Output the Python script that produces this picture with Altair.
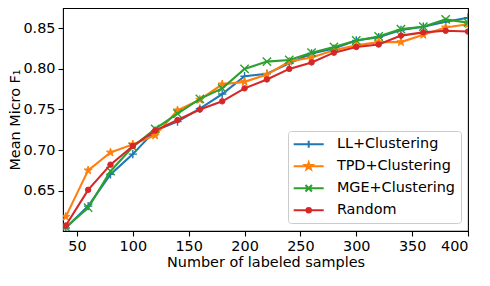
import math
import altair as alt
import pandas as pd

samples = [40, 60, 80, 100, 120, 140, 160, 180, 200, 220, 240, 260, 280, 300, 320, 340, 360, 380, 400]
ll = [0.604, 0.631, 0.670, 0.695, 0.724, 0.735, 0.751, 0.769, 0.791, 0.794, 0.807, 0.819, 0.825, 0.835, 0.839, 0.848, 0.852, 0.858, 0.863]
tpd = [0.618, 0.675, 0.697, 0.707, 0.718, 0.749, 0.762, 0.781, 0.784, 0.793, 0.809, 0.814, 0.823, 0.829, 0.833, 0.833, 0.842, 0.851, 0.855]
mge = [0.605, 0.629, 0.674, 0.704, 0.726, 0.745, 0.763, 0.776, 0.800, 0.809, 0.811, 0.820, 0.827, 0.835, 0.840, 0.849, 0.852, 0.861, 0.857]
rnd = [0.607, 0.651, 0.682, 0.705, 0.724, 0.737, 0.750, 0.760, 0.776, 0.787, 0.800, 0.808, 0.820, 0.827, 0.830, 0.841, 0.845, 0.847, 0.846]

names = ["LL+Clustering", "TPD+Clustering", "MGE+Clustering", "Random"]
colors = ["#1f77b4", "#ff7f0e", "#2ca02c", "#d62728"]
series_values = [ll, tpd, mge, rnd]
x_ticks = [50, 100, 150, 200, 250, 300, 350, 400]
y_ticks = [0.65, 0.70, 0.75, 0.80, 0.85]


def star_path(R, r_ratio=0.381966):
    pts = []
    for k in range(10):
        rad = R if k % 2 == 0 else R * r_ratio
        a = math.radians(-90 + 36 * k)
        pts.append(f"{rad * math.cos(a):.3f},{rad * math.sin(a):.3f}")
    return "M" + "L".join(pts) + "Z"


def circle_path(r):
    return f"M{-r},0A{r},{r} 0 1,0 {r},0A{r},{r} 0 1,0 {-r},0Z"


plus_p = "M-1,0H1M0,-1V1"
x_p = "M-1,-1L1,1M-1,1L1,-1"

# legend symbols (line + marker), 1 unit = 5px at symbolSize 100
leg_line = "M-3,0H3"
leg_paths = [
    leg_line + "M-0.7,0H0.7M0,-0.7V0.7",
    leg_line + star_path(0.75),
    leg_line + "M-0.65,-0.65L0.65,0.65M-0.65,0.65L0.65,-0.65",
    leg_line + circle_path(0.45),
]

FONT = "DejaVu Sans"
FS = 14.4
xscale = alt.Scale(domain=[37.5, 400], nice=False, zero=False)
yscale = alt.Scale(domain=[0.6003, 0.875], nice=False, zero=False)

xax = alt.Axis(values=x_ticks, title="Number of labeled samples", format="d")
yax = alt.Axis(values=y_ticks, title="Mean Micro F\u2081", format=".2f")

layers = []
for i, (nm, col, vals) in enumerate(zip(names, colors, series_values)):
    df = pd.DataFrame({"x": samples, "y": vals})
    base = alt.Chart(df).encode(
        x=alt.X("x:Q", scale=xscale, axis=xax),
        y=alt.Y("y:Q", scale=yscale, axis=yax),
    )
    layers.append(base.mark_line(color=col, strokeWidth=2.1, clip=True))
    if i == 0:
        pts = base.mark_point(shape=plus_p, filled=False, stroke=col, strokeWidth=1.4, size=69, opacity=1, clip=True)
    elif i == 1:
        pts = base.mark_point(shape=star_path(1.0), filled=True, fill=col, stroke=col, strokeWidth=1.0, size=75, opacity=1, clip=True)
    elif i == 2:
        pts = base.mark_point(shape=x_p, filled=False, stroke=col, strokeWidth=1.4, size=69, opacity=1, clip=True)
    else:
        pts = base.mark_point(shape="circle", filled=True, fill=col, stroke=col, strokeWidth=1.0, size=30, opacity=1, clip=True)
    layers.append(pts)

leg_df = pd.DataFrame({"series": names, "x": [samples[0]] * 4, "y": [v[0] for v in series_values]})
leg = alt.Legend(
    title=None, orient="none", legendX=225, legendY=123,
    padding=6, rowPadding=6, symbolSize=100, symbolOffset=7.5, labelOffset=21,
    symbolStrokeWidth=2, symbolOpacity=1, labelFont=FONT, labelFontSize=FS,
    labelColor="black", strokeColor="#cccccc", fillColor="rgba(255,255,255,0.8)",
    cornerRadius=3, labelLimit=0,
)
legend_layer = alt.Chart(leg_df).mark_point(opacity=0, filled=True, clip=True).encode(
    x=alt.X("x:Q", scale=xscale, axis=xax),
    y=alt.Y("y:Q", scale=yscale, axis=yax),
    fill=alt.Fill("series:N", scale=alt.Scale(domain=names, range=colors), legend=leg),
    stroke=alt.Stroke("series:N", scale=alt.Scale(domain=names, range=colors), legend=leg),
    shape=alt.Shape("series:N", scale=alt.Scale(domain=names, range=leg_paths), legend=leg),
)
layers.append(legend_layer)

chart = alt.layer(*layers).properties(
    width=405, height=223,
    autosize=alt.AutoSizeParams(type="none"),
    padding={"left": 55, "top": 0, "right": 14, "bottom": 42},
    background="white",
).configure_view(
    stroke="black", strokeWidth=1.1
).configure_axis(
    grid=False, domain=False, tickColor="black", tickWidth=1.1, tickSize=5,
    labelFont=FONT, labelFontSize=FS, labelColor="black", labelPadding=3,
    titleFont=FONT, titleFontSize=FS, titleFontWeight="normal", titleColor="black",
).configure_axisX(titlePadding=3).configure_axisY(titlePadding=0)

chart.save("out.html", embed_options={"renderer": "svg", "actions": False})
